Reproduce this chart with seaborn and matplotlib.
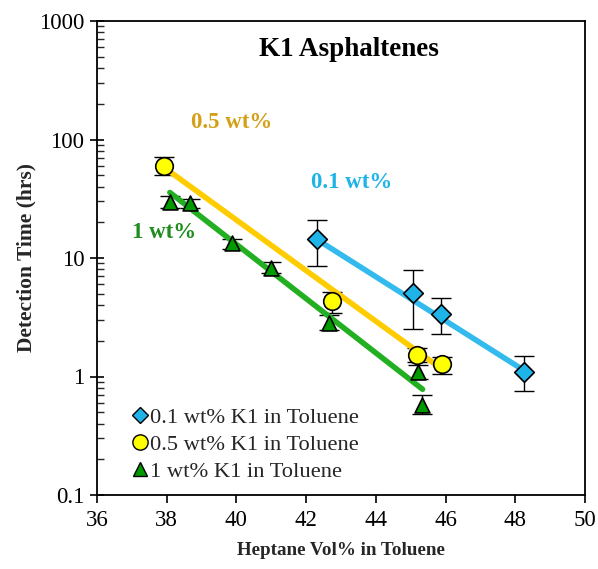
import numpy as np
import pandas as pd
import matplotlib
matplotlib.use("Agg")
import matplotlib.pyplot as plt
import seaborn as sns
from matplotlib.lines import Line2D

# ---- data ----
series_names = ["0.1 wt% K1 in Toluene", "0.5 wt% K1 in Toluene", "1 wt% K1 in Toluene"]

x_01 = [42.3, 45.06, 45.87, 48.25]
y_01 = [14.4, 5.1, 3.35, 1.10]
err_hi_01 = [20.8, 7.9, 4.6, 1.48]
err_lo_01 = [8.5, 2.5, 2.3, 0.75]

x_05 = [37.92, 42.75, 45.17, 45.89]
y_05 = [60.0, 4.35, 1.53, 1.27]
err_hi_05 = [70.6, 5.2, 1.75, 1.45]
err_lo_05 = [50.0, 3.45, 1.33, 1.05]

x_1 = [38.09, 38.67, 39.86, 40.99, 42.66, 45.22, 45.33]
y_1 = [29.9, 29.0, 13.3, 8.3, 2.85, 1.09, 0.58]
err_hi_1 = [33.5, 31.5, 14.6, 9.2, 3.3, 1.25, 0.70]
err_lo_1 = [26.5, 26.5, 12.0, 7.5, 2.45, 0.95, 0.48]

# trend-line endpoints
fit_x_01 = [42.3, 48.28]
fit_y_01 = [14.4, 1.11]
fit_x_05 = [38.0, 45.9]
fit_y_05 = [56.0, 1.15]
fit_x_1 = [38.09, 45.34]
fit_y_1 = [35.7, 0.78]

x_ticks = [36, 38, 40, 42, 44, 46, 48, 50]
y_ticks = [0.1, 1, 10, 100, 1000]
y_tick_labels = ["0.1", "1", "10", "100", "1000"]

fill_colors = ["#1FB4E8", "#FFFF00", "#009A00"]
line_colors = ["#33BBEE", "#FFCC00", "#22B022"]
text_colors = ["#1EB4E8", "#D4A017", "#1E8C1E"]
markers = ["D", "o", "^"]
marker_sizes = [100, 160, 115]

# ---- build tables ----
pts = pd.concat([
    pd.DataFrame({"x": x_01, "y": y_01, "hi": err_hi_01, "lo": err_lo_01, "s": series_names[0]}),
    pd.DataFrame({"x": x_05, "y": y_05, "hi": err_hi_05, "lo": err_lo_05, "s": series_names[1]}),
    pd.DataFrame({"x": x_1, "y": y_1, "hi": err_hi_1, "lo": err_lo_1, "s": series_names[2]}),
], ignore_index=True)
fits = pd.concat([
    pd.DataFrame({"x": fit_x_01, "y": fit_y_01, "s": series_names[0]}),
    pd.DataFrame({"x": fit_x_05, "y": fit_y_05, "s": series_names[1]}),
    pd.DataFrame({"x": fit_x_1, "y": fit_y_1, "s": series_names[2]}),
], ignore_index=True)

sns.set_theme(style="ticks")
plt.rcParams["font.family"] = ["Liberation Serif", "DejaVu Serif"]

fig = plt.figure(figsize=(5.98, 5.69), dpi=100)
ax = fig.add_axes([97 / 598, 1 - 495 / 569, (585 - 97) / 598, (495 - 21) / 569])
ax.set_yscale("log")

# error bars
for i, name in enumerate(series_names):
    d = pts[pts["s"] == name]
    yerr = np.vstack([d["y"] - d["lo"], d["hi"] - d["y"]])
    ax.errorbar(d["x"], d["y"], yerr=yerr, fmt="none", ecolor="black",
                elinewidth=1.0, capsize=7, capthick=1.0, zorder=2)

# trend lines
for i, name in enumerate(series_names):
    d = fits[fits["s"] == name]
    sns.lineplot(data=d, x="x", y="y", ax=ax, color=line_colors[i], lw=4,
                 legend=False, zorder=3, estimator=None, sort=False)

# markers
for i, name in enumerate(series_names):
    d = pts[pts["s"] == name]
    sns.scatterplot(data=d, x="x", y="y", ax=ax, marker=markers[i], s=marker_sizes[i],
                    color=fill_colors[i], edgecolor="black", linewidth=1.2,
                    legend=False, zorder=4)

ax.set_xlim(36, 50)
ax.set_ylim(0.1, 1000)
ax.set_xticks(x_ticks)
ax.set_xticklabels([str(t) for t in x_ticks])
ax.set_yticks(y_ticks)
ax.set_yticklabels(y_tick_labels)
ax.yaxis.set_minor_locator(matplotlib.ticker.LogLocator(base=10, subs=np.arange(2, 10)))
ax.yaxis.set_minor_formatter(matplotlib.ticker.NullFormatter())

ax.tick_params(axis="both", which="major", labelsize=16.5, width=1.2, colors="black")
ax.tick_params(axis="x", which="major", direction="out", length=6, pad=5)
ax.tick_params(axis="y", which="major", direction="inout", length=10, pad=4)
ax.tick_params(axis="y", which="minor", direction="in", length=5, width=1)
ax.tick_params(axis="x", which="minor", bottom=False)
for sp in ax.spines.values():
    sp.set_visible(True)
    sp.set_color("black")
    sp.set_linewidth(1.3)

ax.set_xlabel("Heptane Vol% in Toluene", fontsize=13.7, fontweight="bold", labelpad=8)
ax.set_ylabel("Detection Time (hrs)", fontsize=15.5, fontweight="bold", labelpad=2)

ax.text(0.516, 0.94, "K1 Asphaltenes", transform=ax.transAxes, ha="center", va="center",
        fontsize=19.5, fontweight="bold", color="black")
ax.text(39.87, 140, "0.5 wt%", ha="center", va="center", fontsize=16.5, fontweight="bold",
        color=text_colors[1])
ax.text(43.3, 43.6, "0.1 wt%", ha="center", va="center", fontsize=16.5, fontweight="bold",
        color=text_colors[0])
ax.text(37.93, 16.5, "1 wt%", ha="center", va="center", fontsize=16.5, fontweight="bold",
        color=text_colors[2])

handles = [Line2D([], [], ls="none", marker=markers[i], markersize=[8, 11, 10][i],
                  markerfacecolor=fill_colors[i], markeredgecolor="black",
                  markeredgewidth=1.0) for i in range(3)]
ax.legend(handles, series_names, loc="upper left", bbox_to_anchor=(0.055, 0.205),
          frameon=False, fontsize=16.2, handlelength=0.6, handletextpad=0.15,
          labelspacing=0.28, borderaxespad=0)

fig.savefig("out.png", dpi=100, facecolor="white")
